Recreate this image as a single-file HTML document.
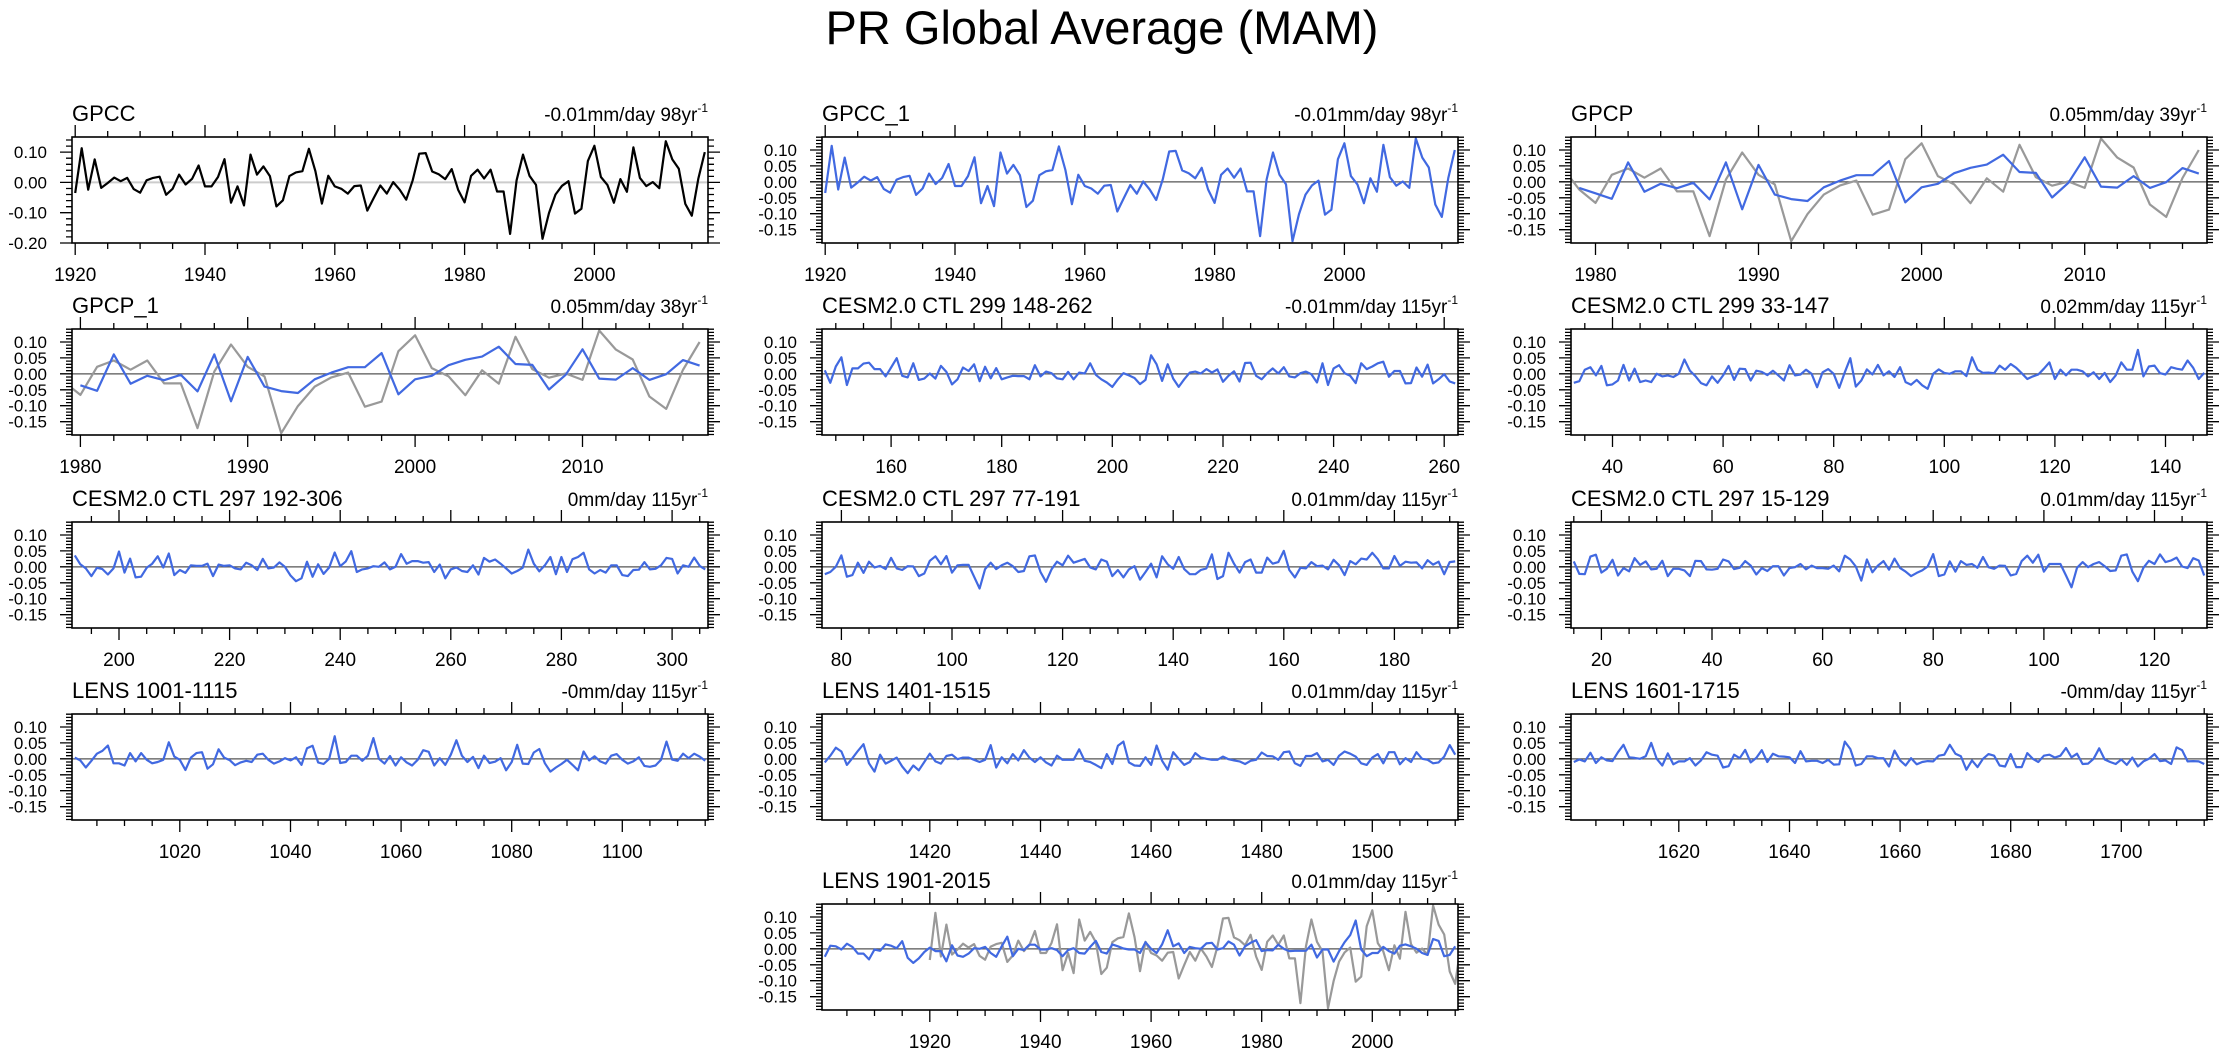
<!DOCTYPE html>
<html><head><meta charset="utf-8"><style>
html,body{margin:0;padding:0;background:#fff;}
svg{display:block;font-family:"Liberation Sans",Arial,sans-serif;}
</style></head><body>
<svg id="chart" width="2230" height="1057" viewBox="0 0 2230 1057" xmlns="http://www.w3.org/2000/svg">
<text x="1102" y="44" font-size="47" text-anchor="middle">PR Global Average (MAM)</text>
</svg>
<script>
// ---------- data ----------
const gpccYears=[1920,2017];
const gpccValues=[-0.035,0.113,-0.024,0.076,-0.018,-0.002,0.016,0.004,0.015,-0.022,-0.034,0.007,0.015,0.019,-0.041,-0.021,0.026,-0.007,0.012,0.056,-0.013,-0.013,0.018,0.077,-0.067,-0.013,-0.076,0.092,0.026,0.053,0.021,-0.079,-0.059,0.021,0.033,0.037,0.111,0.037,-0.070,0.022,-0.013,-0.021,-0.037,-0.012,-0.010,-0.093,-0.051,-0.010,-0.037,0.001,-0.024,-0.057,0.007,0.095,0.097,0.036,0.027,0.011,0.044,-0.024,-0.066,0.022,0.042,0.013,0.042,-0.030,-0.030,-0.170,0.007,0.092,0.022,-0.008,-0.186,-0.101,-0.040,-0.011,0.004,-0.103,-0.087,0.071,0.121,0.018,-0.008,-0.067,0.011,-0.031,0.116,0.015,-0.012,0.001,-0.019,0.136,0.076,0.045,-0.071,-0.110,0.012,0.100];
const gpcpValues=[-0.019,-0.036,-0.053,0.061,-0.031,-0.006,-0.020,-0.003,-0.055,0.061,-0.086,0.053,-0.040,-0.054,-0.060,-0.017,0.004,0.021,0.021,0.065,-0.064,-0.017,-0.006,0.027,0.044,0.054,0.085,0.031,0.028,-0.049,-0.003,0.077,-0.015,-0.018,0.018,-0.019,-0.001,0.043,0.026];
const ctl299a=[0.011,-0.028,0.023,0.052,-0.035,0.017,0.017,0.032,0.035,0.015,0.015,-0.008,0.020,0.049,-0.006,-0.011,0.033,-0.019,-0.015,0.001,-0.015,0.025,0.006,-0.033,-0.017,0.020,0.009,0.030,-0.023,0.022,-0.014,0.018,-0.017,-0.011,-0.006,-0.007,-0.007,-0.017,0.027,-0.008,0.007,0.002,-0.014,-0.017,0.006,-0.017,0.004,0.001,0.033,-0.003,-0.017,-0.027,-0.041,-0.017,0.002,-0.005,-0.013,-0.032,-0.019,0.058,0.030,-0.022,0.030,-0.015,-0.041,-0.017,0.004,0.007,0.001,0.015,0.004,0.014,-0.025,-0.006,0.008,-0.024,0.034,0.035,-0.006,-0.017,0.002,0.017,0.001,0.021,-0.008,-0.011,0.002,0.007,-0.001,-0.027,0.033,-0.035,0.017,0.027,0.002,-0.006,-0.029,0.033,0.015,0.023,0.033,0.038,-0.009,0.009,0.009,-0.030,-0.029,0.020,-0.009,0.029,-0.030,-0.017,-0.001,-0.024,-0.030];
const ctl299b=[-0.028,-0.023,0.013,0.021,-0.005,0.025,-0.036,-0.033,-0.021,0.028,-0.021,0.016,-0.026,-0.021,-0.026,0,-0.008,-0.005,-0.010,0,0.045,0.010,-0.007,-0.029,-0.036,-0.008,-0.028,-0.005,0.025,-0.019,0.016,0.015,-0.021,0.010,0.006,-0.004,0.010,-0.005,-0.021,0.027,-0.005,-0.002,0.013,0,-0.042,0.005,0.015,0,-0.044,0.005,0.049,-0.040,-0.021,0.014,-0.002,0.028,-0.005,0.008,-0.010,0.021,-0.026,-0.034,-0.019,-0.036,-0.047,0,0.014,0.003,0,0.008,0.008,-0.007,0.052,0.013,0.003,0.004,0.002,0.026,0.013,0.031,0.019,0.002,-0.016,-0.008,-0.002,0.016,0.036,-0.016,0.013,-0.005,0.013,0.013,0.008,-0.008,0.005,-0.016,0.003,-0.026,-0.005,0.036,0.013,0.013,0.075,-0.008,0.023,0.026,0.002,-0.002,0.021,0.016,0.013,0.042,0.019,-0.016,0.003];
const ctl297a=[0.036,0.008,-0.005,-0.029,-0.003,-0.007,-0.024,-0.005,0.048,-0.018,0.026,-0.033,-0.031,-0.003,0.010,0.033,-0.002,0.042,-0.026,-0.010,-0.019,0.005,0.003,0.003,0.010,-0.029,0.007,0.003,0.005,-0.005,-0.008,0.013,0.005,-0.010,0.025,-0.005,-0.002,0.014,0,-0.027,-0.045,-0.036,0.016,-0.031,0.008,-0.022,-0.002,0.045,0.002,0.017,0.049,-0.016,-0.008,-0.005,0.002,0,0.014,-0.008,0,0.040,0.010,0.018,0.018,0.013,0.015,-0.016,0.007,-0.036,-0.008,-0.002,-0.013,-0.016,0.005,-0.024,0.028,0.016,0.023,0.010,-0.005,-0.021,-0.013,-0.003,0.054,0.010,-0.014,0.005,0.031,-0.023,0.031,-0.016,0.024,0.031,0.044,-0.008,-0.021,-0.010,-0.018,0.005,0.005,-0.026,-0.029,-0.010,-0.009,0.015,-0.008,-0.006,0.005,0.028,0.025,-0.021,0.005,0,0.029,0.003,-0.008];
const ctl297b=[-0.023,-0.016,0,0.036,-0.031,-0.026,0.013,-0.019,0.016,-0.002,0.003,-0.007,0.028,-0.005,-0.010,0.002,0.001,-0.029,-0.021,0.019,0.033,0.008,0.034,-0.018,0.005,0.006,0.006,-0.031,-0.068,-0.007,0.013,-0.007,0.005,0.013,0.002,-0.016,-0.013,0.033,0.036,-0.016,-0.047,-0.008,0.016,0.005,0.035,0.013,0.019,0.025,-0.002,-0.008,0.023,0.016,-0.029,-0.010,-0.033,-0.008,0.002,-0.040,-0.016,0.010,-0.033,0.033,0.008,-0.006,0.031,-0.007,-0.023,-0.023,-0.010,-0.005,0.039,-0.038,-0.029,0.044,0.010,-0.018,0.015,0.023,-0.018,-0.018,0.029,0.010,0.015,0.050,-0.010,-0.033,-0.003,-0.005,0.015,0.002,0.004,-0.008,0.022,0.005,-0.026,0.018,0.008,0.026,0.023,0.044,0.024,-0.005,-0.005,0.034,0.003,0.016,0.013,0.014,-0.005,0.021,0.007,0.016,-0.023,0.015,0.017];
const ctl297c=[0.017,-0.022,-0.023,0.032,0.038,-0.018,-0.006,0.022,-0.027,-0.004,-0.014,0.027,0.006,0.017,-0.008,-0.006,0.019,-0.029,-0.006,-0.006,-0.011,-0.029,0.019,0.018,-0.008,-0.009,-0.006,0.023,0.017,-0.007,-0.003,0.018,0.004,-0.024,-0.004,-0.013,0.002,0.002,-0.027,-0.004,-0.001,0.009,-0.008,0.004,-0.004,-0.004,-0.006,0.004,-0.014,0.035,0.023,0.001,-0.043,0.023,-0.017,0.004,0.018,-0.009,0.026,-0.004,-0.015,-0.029,-0.019,-0.011,0.001,0.040,-0.029,-0.024,0.017,-0.015,0.018,0.006,0.009,-0.003,0.031,-0.001,-0.006,0.004,0.003,-0.027,-0.022,0.018,0.035,0.013,0.038,-0.015,0.009,0.009,0.009,-0.027,-0.064,-0.003,0.015,-0.001,0.009,0.015,0.002,-0.013,-0.011,0.035,0.039,-0.015,-0.045,-0.003,0.019,0.009,0.039,0.015,0.020,0.029,0.001,-0.004,0.027,0.020,-0.027];
const lens1001=[0.004,-0.005,-0.027,-0.006,0.016,0.025,0.042,-0.014,-0.014,-0.021,0.018,-0.008,0.018,-0.003,-0.014,-0.010,-0.003,0.052,0.007,-0.003,-0.035,0.004,0.018,0.021,-0.031,-0.017,0.030,0.004,-0.004,-0.020,-0.011,-0.006,-0.010,0.013,0.016,-0.003,-0.015,-0.008,0.002,-0.005,0.005,-0.019,0.033,0.041,-0.011,-0.016,0,0.071,-0.013,-0.010,0.010,0.010,-0.006,0.010,0.065,0,-0.015,0.009,-0.021,0.005,-0.011,-0.021,-0.003,0.027,0.022,-0.021,0.002,-0.019,0.013,0.058,0.010,-0.010,0.006,-0.029,0.010,-0.013,-0.009,0.002,-0.036,-0.010,0.044,-0.015,-0.016,0.020,0.031,-0.014,-0.040,-0.027,-0.016,-0.003,-0.019,-0.036,0.023,-0.005,0.008,-0.008,-0.015,0.010,0.015,-0.003,-0.015,-0.008,0.005,-0.022,-0.025,-0.021,-0.003,0.054,-0.002,-0.006,0.016,0.002,0.016,0.007,-0.006];
const lens1401=[-0.011,0.010,0.035,0.023,-0.019,0.002,0.025,0.046,-0.014,-0.040,0.013,-0.015,-0.006,0.004,-0.024,-0.045,-0.021,-0.036,-0.010,0.016,-0.008,-0.015,0.009,0.013,-0.001,0.004,0.004,-0.003,-0.010,-0.003,0.043,-0.027,0.005,-0.014,0.015,-0.005,0.027,0.004,-0.010,0.005,-0.011,-0.021,0.010,-0.003,-0.003,-0.003,0.030,-0.006,-0.010,-0.019,-0.029,0.015,-0.016,0.041,0.054,-0.011,-0.021,-0.022,0.005,-0.019,0.042,-0.006,-0.034,0.021,0,-0.019,-0.010,0.018,0.004,0,-0.003,-0.003,0.007,-0.001,-0.005,-0.008,-0.016,-0.006,-0.003,0.020,0.009,0.008,-0.003,0.021,0.023,-0.014,-0.022,0.009,0.009,0.018,-0.008,-0.003,-0.019,0.010,0.023,0.016,0.007,-0.014,-0.019,0.004,0.015,-0.014,0.021,0.021,-0.017,0.002,-0.010,0.021,0,-0.003,-0.014,-0.011,0.007,0.043,0.013];
const lens1601=[-0.010,-0.002,-0.008,0.019,-0.013,0.005,-0.005,-0.007,0.021,0.044,0.005,0.003,0,0.008,0.050,0,-0.021,0.017,-0.017,-0.008,-0.008,0.002,-0.021,-0.005,0.021,0.013,0.010,-0.027,-0.023,0.013,0.002,0.028,-0.011,0.003,0.027,-0.010,0.016,0.008,0.007,0.005,-0.013,0.024,-0.008,-0.006,-0.006,-0.013,-0.003,-0.018,-0.017,0.054,0.031,-0.021,-0.016,0.008,0.008,0.002,0.002,-0.024,0.026,-0.005,-0.021,0.002,-0.017,-0.010,-0.007,-0.008,0.010,0.013,0.044,0.016,0.008,-0.034,-0.005,-0.026,0,0.015,0.010,-0.021,-0.024,0.015,-0.026,-0.026,0.018,0,-0.010,0.010,0.013,0.004,0.010,0.034,0.005,0.016,-0.016,-0.015,0,0.033,-0.002,-0.010,-0.016,-0.002,-0.019,0.004,-0.024,-0.008,0,0.015,-0.007,-0.005,-0.016,0.036,0.027,-0.008,-0.007,-0.008,-0.016];
const lens1901=[-0.025,0.010,0.008,-0.002,0.016,0.006,-0.015,-0.015,-0.033,-0.002,-0.006,0.014,0.010,0.002,0.024,-0.028,-0.044,-0.030,-0.010,0.004,-0.007,-0.007,-0.039,0.011,-0.021,-0.025,-0.015,0.002,0,0.006,-0.013,-0.025,0.008,0.038,-0.023,0,-0.004,0.013,0.013,-0.002,-0.002,0.002,-0.004,-0.023,-0.004,0.002,-0.013,-0.015,0.006,0.025,-0.010,-0.015,0.014,0.008,0.001,-0.002,-0.002,-0.013,0.021,0,-0.013,0.014,0.058,0.008,0.017,-0.013,0.006,0.002,0,0.017,0.019,-0.002,0.002,0.023,0.013,-0.021,0.008,0.019,0.027,-0.007,-0.004,-0.005,0.013,0,-0.007,-0.006,-0.006,-0.006,0.013,-0.027,-0.002,-0.002,-0.040,-0.007,0.021,0.043,0.089,-0.002,-0.023,-0.013,-0.013,0.006,-0.007,-0.015,0.010,0.014,0.008,0,-0.013,-0.019,0.031,0.025,-0.023,-0.019,0.008];
const gpccTickLabels=[1920,1940,1960,1980,2000];
const yTicksFine=["0.10","0.05","0.00","-0.05","-0.10","-0.15"];
const yTicksCoarse=["0.10","0.00","-0.10","-0.20"];

// ---------- layout ----------
const cols=[72,822,1571], colW=636;
const rows=[137,329,522,714,904], rowH=106;
const NS="http://www.w3.org/2000/svg";
const svg=document.getElementById('chart');
function mk(tag,attrs,parent){const e=document.createElementNS(NS,tag);for(const k in attrs)e.setAttribute(k,attrs[k]);(parent||svg).appendChild(e);return e;}
function range(a,b){const r=[];for(let i=a;i<=b;i++)r.push(i);return r;}

const panels=[
 {c:0,r:0,title:"GPCC",trend:"-0.01mm/day 98yr",x0:1920,x1:2017,major:20,minor:5,xt:gpccTickLabels,coarse:true,
  series:[{x:range(1920,2017),y:gpccValues,color:"#000"}]},
 {c:1,r:0,title:"GPCC_1",trend:"-0.01mm/day 98yr",x0:1920,x1:2017,major:20,minor:5,xt:gpccTickLabels,
  series:[{x:range(1920,2017),y:gpccValues,color:"#4169e1"}]},
 {c:2,r:0,title:"GPCP",trend:"0.05mm/day 39yr",x0:1979,x1:2017,major:10,minor:2,xt:[1980,1990,2000,2010],
  series:[{x:range(1920,2017),y:gpccValues,color:"#999"},{x:range(1979,2017),y:gpcpValues,color:"#4169e1"}]},
 {c:0,r:1,title:"GPCP_1",trend:"0.05mm/day 38yr",x0:1980,x1:2017,major:10,minor:2,xt:[1980,1990,2000,2010],
  series:[{x:range(1920,2017),y:gpccValues,color:"#999"},{x:range(1980,2017),y:gpcpValues.slice(1),color:"#4169e1"}]},
 {c:1,r:1,title:"CESM2.0 CTL 299 148-262",trend:"-0.01mm/day 115yr",x0:148,x1:262,major:20,minor:5,xt:[160,180,200,220,240,260],
  series:[{x:range(148,262),y:ctl299a,color:"#4169e1"}]},
 {c:2,r:1,title:"CESM2.0 CTL 299 33-147",trend:"0.02mm/day 115yr",x0:33,x1:147,major:20,minor:5,xt:[40,60,80,100,120,140],
  series:[{x:range(33,147),y:ctl299b,color:"#4169e1"}]},
 {c:0,r:2,title:"CESM2.0 CTL 297 192-306",trend:"0mm/day 115yr",x0:192,x1:306,major:20,minor:5,xt:[200,220,240,260,280,300],
  series:[{x:range(192,306),y:ctl297a,color:"#4169e1"}]},
 {c:1,r:2,title:"CESM2.0 CTL 297 77-191",trend:"0.01mm/day 115yr",x0:77,x1:191,major:20,minor:5,xt:[80,100,120,140,160,180],
  series:[{x:range(77,191),y:ctl297b,color:"#4169e1"}]},
 {c:2,r:2,title:"CESM2.0 CTL 297 15-129",trend:"0.01mm/day 115yr",x0:15,x1:129,major:20,minor:5,xt:[20,40,60,80,100,120],
  series:[{x:range(15,129),y:ctl297c,color:"#4169e1"}]},
 {c:0,r:3,title:"LENS 1001-1115",trend:"-0mm/day 115yr",x0:1001,x1:1115,major:20,minor:5,xt:[1020,1040,1060,1080,1100],
  series:[{x:range(1001,1115),y:lens1001,color:"#4169e1"}]},
 {c:1,r:3,title:"LENS 1401-1515",trend:"0.01mm/day 115yr",x0:1401,x1:1515,major:20,minor:5,xt:[1420,1440,1460,1480,1500],
  series:[{x:range(1401,1515),y:lens1401,color:"#4169e1"}]},
 {c:2,r:3,title:"LENS 1601-1715",trend:"-0mm/day 115yr",x0:1601,x1:1715,major:20,minor:5,xt:[1620,1640,1660,1680,1700],
  series:[{x:range(1601,1715),y:lens1601,color:"#4169e1"}]},
 {c:1,r:4,title:"LENS 1901-2015",trend:"0.01mm/day 115yr",x0:1901,x1:2015,major:20,minor:5,xt:[1920,1940,1960,1980,2000],
  series:[{x:range(1920,2017),y:gpccValues,color:"#999"},{x:range(1901,2015),y:lens1901,color:"#4169e1"}]}
];

panels.forEach((p,pi)=>{
  const L=cols[p.c],T=rows[p.r],W=colW,H=rowH;
  const g=mk('g',{});
  
  
  const xmin=p.x0-0.5,xmax=p.x1+0.5;
  const ymin=p.coarse?-0.2:-0.1917, ymax=p.coarse?0.15:0.1406;
  const sx=v=>L+(v-xmin)/(xmax-xmin)*W;
  const sy=v=>T+H-(v-ymin)/(ymax-ymin)*H;
  const cid='clip'+pi;
  const cp=mk('clipPath',{id:cid},g);mk('rect',{x:L,y:T,width:W,height:H},cp);
  const z=mk('line',{x1:L,x2:L+W,y1:sy(0),y2:sy(0),stroke:p.coarse?"#ccc":"#555","stroke-width":p.coarse?2:1.3},g);
  
  
  p.series.forEach((s,si)=>{
    let d='';
    s.x.forEach((xv,i)=>{d+=(i?'L':'M')+sx(xv).toFixed(1)+','+sy(s.y[i]).toFixed(1);});
    const pl=mk('path',{d:d,fill:'none',stroke:s.color,'stroke-width':2.2,'stroke-linejoin':'round','clip-path':'url(#'+cid+')'},g);
    
    
  });
  mk('rect',{x:L,y:T,width:W,height:H,fill:'none',stroke:'#000','stroke-width':1.6},g);
  let tk='';
  const start=Math.ceil(xmin/p.minor)*p.minor;
  for(let v=start;v<=xmax;v+=p.minor){
    const X=sx(v).toFixed(1), len=(v%p.major===0)?12:6;
    tk+='M'+X+','+T+'v'+(-len)+'M'+X+','+(T+H)+'v'+len;
  }
  const step=p.coarse?0.02:0.01, majStep=p.coarse?0.1:0.05;
  for(let k=Math.ceil(ymin/step);k*step<=ymax+1e-9;k++){
    const v=k*step, Y=sy(v).toFixed(1);
    const isMaj=Math.abs(v/majStep-Math.round(v/majStep))<1e-6;
    const len=isMaj?12:6;
    tk+='M'+L+','+Y+'h'+(-len)+'M'+(L+W)+','+Y+'h'+len;
  }
  mk('path',{d:tk,stroke:'#000','stroke-width':1.3,fill:'none'},g);
  p.xt.forEach(v=>{
    const t=mk('text',{x:sx(v),y:T+H+38,'font-size':19,'text-anchor':'middle'},g);
    t.textContent=v;
    
    
  });
  (p.coarse?yTicksCoarse:yTicksFine).forEach(s=>{
    const t=mk('text',{x:L-25,y:sy(parseFloat(s))+6,'font-size':17,'text-anchor':'end'},g);
    t.textContent=s;
    
    
  });
  const tt=mk('text',{x:L,y:T-16,'font-size':22},g);
  tt.textContent=p.title;
  
  
  const tr=mk('text',{x:L+W,y:T-16,'font-size':19,'text-anchor':'end'},g);
  
  
  tr.appendChild(document.createTextNode(p.trend));
  const sup=mk('tspan',{dy:-9,'font-size':12},tr);sup.textContent='-1';
});
</script>
</body></html>
